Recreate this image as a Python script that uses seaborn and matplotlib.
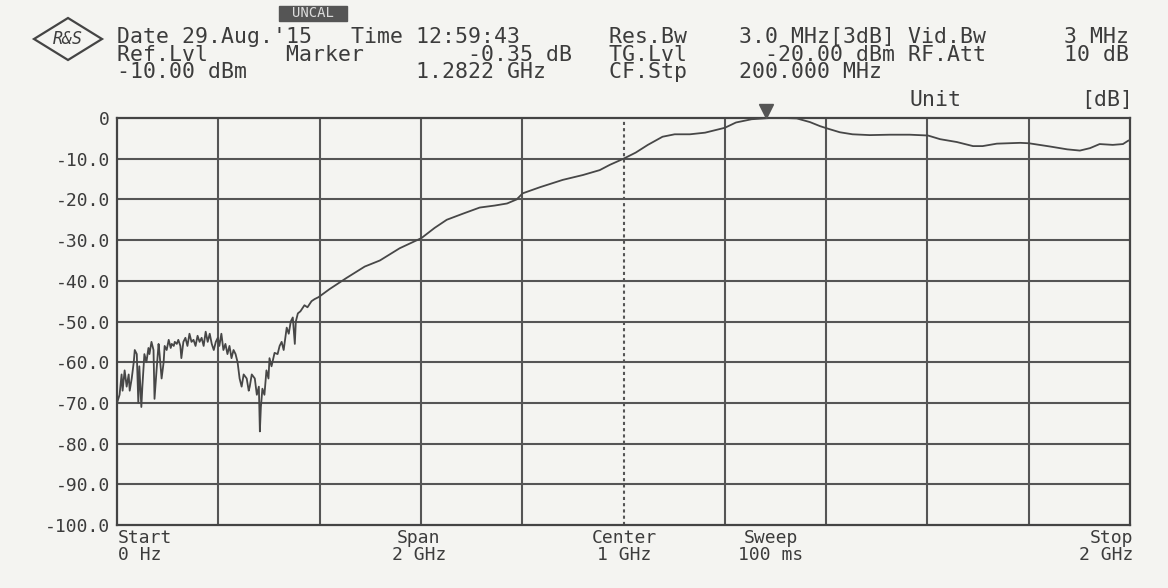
import numpy as np
import pandas as pd
import matplotlib
matplotlib.use("Agg")
import matplotlib.pyplot as plt
from matplotlib.patches import Polygon, Rectangle
import seaborn as sns

# trace: frequency (GHz) and level (dB)
freq_ghz = [
    0.000, 0.005, 0.009, 0.011, 0.015, 0.019, 0.023, 0.025, 0.029, 0.033,
    0.035, 0.039, 0.042, 0.044, 0.048, 0.050, 0.054, 0.058, 0.062, 0.064,
    0.068, 0.072, 0.074, 0.078, 0.082, 0.084, 0.088, 0.092, 0.094, 0.098,
    0.102, 0.106, 0.108, 0.112, 0.114, 0.118, 0.121, 0.125, 0.127, 0.131,
    0.135, 0.139, 0.143, 0.147, 0.151, 0.155, 0.159, 0.163, 0.167, 0.171,
    0.175, 0.179, 0.183, 0.187, 0.191, 0.195, 0.199, 0.202, 0.206, 0.210,
    0.214, 0.218, 0.222, 0.226, 0.230, 0.234, 0.238, 0.242, 0.246, 0.250,
    0.256, 0.260, 0.262, 0.266, 0.272, 0.276, 0.280, 0.282, 0.284, 0.287,
    0.291, 0.295, 0.299, 0.301, 0.305, 0.311, 0.317, 0.321, 0.325, 0.329,
    0.335, 0.339, 0.343, 0.347, 0.351, 0.353, 0.357, 0.362, 0.370, 0.376,
    0.384, 0.390, 0.398, 0.420, 0.453, 0.489, 0.519, 0.558, 0.601, 0.627,
    0.651, 0.683, 0.716, 0.746, 0.770, 0.789, 0.801, 0.835, 0.880, 0.920,
    0.953, 0.973, 1.000, 1.024, 1.048, 1.077, 1.101, 1.131, 1.161, 1.200,
    1.222, 1.253, 1.289, 1.318, 1.342, 1.368, 1.388, 1.403, 1.427, 1.452,
    1.486, 1.526, 1.565, 1.601, 1.625, 1.658, 1.690, 1.709, 1.737, 1.783,
    1.800, 1.842, 1.876, 1.901, 1.921, 1.940, 1.966, 1.986, 1.996, 2.000,
]
level_db = [
    -70, -68, -63, -67, -62, -66, -63, -67, -64, -60,
    -57, -58, -70, -61, -71, -66, -58, -60, -56.5, -58,
    -55, -57, -69, -62, -55.5, -58, -64, -60, -56, -57,
    -54.5, -56.5, -55.5, -56, -55, -55.5, -54.5, -56, -59, -55,
    -54, -56, -53, -55, -54.5, -56, -53.5, -55, -54, -56,
    -52.5, -55, -53, -55.5, -57, -55, -54, -56, -53, -57,
    -55.5, -58, -56, -59, -57, -58, -60, -64, -66, -63,
    -64, -67, -66, -63, -64, -68, -66, -77, -71, -66.5,
    -68, -62, -64, -59, -61, -57.7, -58, -56, -55, -57,
    -51.5, -53, -50, -49, -55.5, -50, -48, -47.5, -46, -46.5,
    -45, -44.5, -44, -42, -39.3, -36.5, -35, -32, -29.5, -27,
    -25, -23.5, -22, -21.5, -21, -20, -18.5, -17, -15.2, -14,
    -12.8, -11.5, -10, -8.5, -6.6, -4.6, -4, -4, -3.6, -2.4,
    -1.1, -0.3, 0, 0, -0.1, -1, -2, -2.6, -3.5, -4,
    -4.2, -4.1, -4.1, -4.3, -5.2, -5.9, -6.9, -6.9, -6.3, -6.1,
    -6.2, -7.0, -7.7, -8.0, -7.4, -6.4, -6.6, -6.4, -5.6, -5.4,
]
y_ticks = [0, -10, -20, -30, -40, -50, -60, -70, -80, -90, -100]
y_tick_labels = ["0", "-10.0", "-20.0", "-30.0", "-40.0", "-50.0",
                 "-60.0", "-70.0", "-80.0", "-90.0", "-100.0"]
x_grid = [0.0, 0.2, 0.4, 0.6, 0.8, 1.0, 1.2, 1.4, 1.6, 1.8, 2.0]
marker_freq = 1.2822
marker_level = -0.35

# header lines as printed by the analyser (fixed pitch)
header_left = [
    "Date 29.Aug.'15   Time 12:59:43",
    "Ref.Lvl      Marker        -0.35 dB",
    "-10.00 dBm             1.2822 GHz",
]
header_right = [
    "Res.Bw    3.0 MHz[3dB] Vid.Bw      3 MHz",
    "TG.Lvl      -20.00 dBm RF.Att      10 dB",
    "CF.Stp    200.000 MHz",
]
footer = [("Start\n0 Hz", "left"), ("Span\n2 GHz", "center"),
          ("Center\n1 GHz", "center"), ("Sweep\n100 ms", "center"),
          ("Stop\n2 GHz", "right")]

df = pd.DataFrame({"freq": freq_ghz, "level": level_db})

sns.set_style("white")
plt.rcParams["font.family"] = ["DejaVu Sans Mono", "DejaVu Sans"]

paper = "#f4f4f1"
ink = "#3c3c3c"
grid_c = "#555555"

fig = plt.figure(figsize=(11.68, 5.88), dpi=100, facecolor=paper)
ax = fig.add_axes([0.1002, 0.1071, 0.8673, 0.6922])
ax.set_facecolor(paper)

# grid, centre line dotted like the analyser printout
for xv in x_grid[1:-1]:
    ls = (0, (1.5, 1.5)) if abs(xv - 1.0) < 1e-9 else "-"
    ax.axvline(xv, color=grid_c, lw=1.5, ls=ls, zorder=1)
for yv in y_ticks[1:-1]:
    ax.axhline(yv, color=grid_c, lw=1.5, zorder=1)

sns.lineplot(data=df, x="freq", y="level", ax=ax, color="#474747",
             linewidth=1.3, sort=False, estimator=None, zorder=3)

ax.set_xlim(0, 2)
ax.set_ylim(-100, 0)
ax.set_xticks(x_grid)
ax.set_xticklabels([])
ax.set_yticks(y_ticks)
ax.set_yticklabels(y_tick_labels, fontsize=13, color=ink)
ax.tick_params(length=0, pad=5)
ax.set_xlabel("")
ax.set_ylabel("")
for s in ax.spines.values():
    s.set_color("#444444")
    s.set_linewidth(1.6)

# marker triangle above the peak
ax.plot([marker_freq], [1.6], marker="v", markersize=10, color="#555555",
        clip_on=False, zorder=5)

W, H = 1168.0, 588.0


def ftext(x, y, s, size=16, ha="left", va="center", **kw):
    return fig.text(x / W, 1 - y / H, s, fontsize=size, ha=ha, va=va,
                    color=ink, **kw)


# header blocks
ftext(117, 27, "\n".join(header_left), size=15.5, va="top", linespacing=0.85)
ftext(609, 27, "\n".join(header_right), size=15.5, va="top", linespacing=0.85)
ftext(910, 100, "Unit", size=15.5)
ftext(1133, 100, "[dB]", size=15.5, ha="right")

# UNCAL flag
fig.patches.append(Rectangle((279 / W, 1 - 21 / H), 68 / W, 15 / H,
                             transform=fig.transFigure, color="#555555"))
t = ftext(313, 13, "UNCAL", size=10, ha="center")
t.set_color("#dcdcdc")

# R&S logo
fig.patches.append(Polygon([(34 / W, 1 - 39 / H), (68 / W, 1 - 18 / H),
                            (102 / W, 1 - 39 / H), (68 / W, 1 - 60 / H)],
                           closed=True, transform=fig.transFigure,
                           fill=False, edgecolor="#444444", lw=1.6))
ftext(68, 39, "R&S", size=12, ha="center", style="italic")

# footer
foot_x = [118, 419, 624, 771, 1133]
for (s, ha), xp in zip(footer, foot_x):
    ftext(xp, 529, s, size=13, ha=ha, va="top", linespacing=0.95,
          multialignment=ha)

fig.savefig("out.png", dpi=100, facecolor=paper)
